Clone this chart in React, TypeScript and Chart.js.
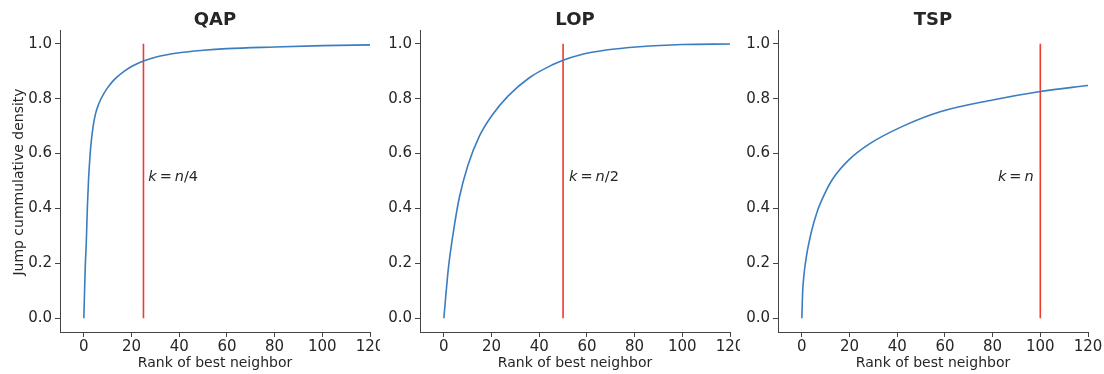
import React, { useEffect, useRef } from 'react';
import { Chart, registerables } from 'chart.js';
Chart.register(...registerables);

const xTickValues = [0, 20, 40, 60, 80, 100, 120];
const yTickValues = [0, 0.2, 0.4, 0.6, 0.8, 1.0];

const qapX = [0, 0.3, 0.6, 1, 1.5, 2, 2.5, 3, 4, 5, 6, 7, 8.5, 10, 12, 14, 17, 20, 25, 30, 40, 50, 60, 80, 100, 120];
const qapY = [0, 0.1, 0.19, 0.27, 0.41, 0.51, 0.58, 0.635, 0.705, 0.748, 0.775, 0.796, 0.82, 0.84, 0.862, 0.879, 0.9, 0.917, 0.937, 0.951, 0.967, 0.976, 0.982, 0.988, 0.993, 0.996];

const lopX = [0, 1, 2, 4, 6.5, 10, 15, 20, 27, 36, 46, 50, 57, 68, 82, 100, 120];
const lopY = [0, 0.1, 0.19, 0.315, 0.44, 0.555, 0.665, 0.737, 0.81, 0.877, 0.925, 0.94, 0.959, 0.977, 0.989, 0.997, 0.999];

const tspX = [0, 0.3, 0.8, 1.7, 4, 6.5, 9.5, 13, 19.5, 28.5, 42, 58, 80, 100, 120];
const tspY = [0, 0.09, 0.15, 0.214, 0.315, 0.39, 0.452, 0.508, 0.575, 0.636, 0.698, 0.752, 0.795, 0.826, 0.848];

const titles = ['QAP', 'LOP', 'TSP'];
const thresholds = [25, 50, 100];
const thresholdLabels = ['n/4', 'n/2', 'n'];

const FONT = "'DejaVu Sans', sans-serif";
const TEXT = '#262626';
const AXIS = '#444444';
const BLUE = '#3b7dc0';
const RED = '#ef3b30';

type Panel = {
  xs: number[];
  ys: number[];
  title: string;
  k: number;
  kLabel: string;
  left: number;
  width: number;
  axisW: number;
  padRight: number;
  annX: number;
  annAlign: 'left' | 'right';
  yLabel?: string;
};

const panels: Panel[] = [
  { xs: qapX, ys: qapY, title: titles[0], k: thresholds[0], kLabel: thresholdLabels[0], left: 0, width: 380, axisW: 60, padRight: 10, annX: 27, annAlign: 'left', yLabel: 'Jump cummulative density' },
  { xs: lopX, ys: lopY, title: titles[1], k: thresholds[1], kLabel: thresholdLabels[1], left: 380, width: 360, axisW: 40, padRight: 10, annX: 52.5, annAlign: 'left' },
  { xs: tspX, ys: tspY, title: titles[2], k: thresholds[2], kLabel: thresholdLabels[2], left: 740, width: 364, axisW: 38, padRight: 16, annX: 97.2, annAlign: 'right' },
];

function drawMath(ctx: CanvasRenderingContext2D, label: string, x: number, y: number, align: 'left' | 'right') {
  const size = 14.5;
  const it = `italic ${size}px ${FONT}`;
  const rg = `${size}px ${FONT}`;
  const nPart = label.slice(0, 1);
  const rest = label.slice(1);
  const pieces: { t: string; f: string; gap: number }[] = [
    { t: 'k', f: it, gap: 3 },
    { t: '=', f: rg, gap: 3 },
    { t: nPart, f: it, gap: 0 },
    { t: rest, f: rg, gap: 0 },
  ];
  let total = 0;
  for (const p of pieces) {
    ctx.font = p.f;
    total += ctx.measureText(p.t).width + p.gap;
  }
  let cx = align === 'left' ? x : x - total;
  ctx.textAlign = 'left';
  ctx.textBaseline = 'alphabetic';
  ctx.fillStyle = TEXT;
  for (const p of pieces) {
    ctx.font = p.f;
    if (p.t) ctx.fillText(p.t, cx, y);
    cx += ctx.measureText(p.t).width + p.gap;
  }
}

function PanelChart({ p }: { p: Panel }) {
  const ref = useRef<HTMLCanvasElement | null>(null);
  useEffect(() => {
    if (!ref.current) return;
    const textPlugin = {
      id: 'texts',
      afterDraw(chart: any) {
        const ctx = chart.ctx as CanvasRenderingContext2D;
        const area = chart.chartArea;
        const xs = chart.scales.x;
        const ys = chart.scales.y;
        ctx.save();
        ctx.fillStyle = TEXT;
        ctx.font = `bold 18px ${FONT}`;
        ctx.textAlign = 'center';
        ctx.textBaseline = 'alphabetic';
        ctx.fillText(p.title, (area.left + area.right) / 2, 24.5);
        ctx.font = `14px ${FONT}`;
        ctx.fillText('Rank of best neighbor', (area.left + area.right) / 2, 367);
        if (p.yLabel) {
          ctx.save();
          ctx.translate(23, (area.top + area.bottom) / 2 + 1);
          ctx.rotate(-Math.PI / 2);
          ctx.textAlign = 'center';
          ctx.fillText(p.yLabel, 0, 0);
          ctx.restore();
        }
        drawMath(ctx, p.kLabel, xs.getPixelForValue(p.annX), ys.getPixelForValue(0.5) - 0.5, p.annAlign);
        ctx.restore();
      },
    };
    const chart = new Chart(ref.current, {
      type: 'scatter',
      data: {
        datasets: [
          {
            data: p.xs.map((x, i) => ({ x, y: p.ys[i] })),
            showLine: true,
            borderColor: BLUE,
            borderWidth: 1.6,
            pointRadius: 0,
            cubicInterpolationMode: 'monotone',
          } as any,
          {
            data: [{ x: p.k, y: 0 }, { x: p.k, y: 1 }],
            showLine: true,
            borderColor: RED,
            borderWidth: 1.6,
            pointRadius: 0,
          } as any,
        ],
      },
      options: {
        responsive: false,
        animation: false,
        devicePixelRatio: 1,
        layout: { padding: { top: 30, right: p.padRight, left: 0, bottom: 0 } },
        plugins: { legend: { display: false }, tooltip: { enabled: false }, title: { display: false } },
        scales: {
          x: {
            type: 'linear',
            min: -10,
            max: 120,
            afterBuildTicks: (s: any) => { s.ticks = xTickValues.map((v) => ({ value: v })); },
            afterFit: (s: any) => { s.height = 42; s.paddingLeft = 0; s.paddingRight = 0; },
            ticks: { font: { family: FONT, size: 15 }, color: TEXT, padding: 1, maxRotation: 0, autoSkip: false, callback: (v: any) => String(v) },
            grid: { display: true, drawOnChartArea: false, drawTicks: true, tickLength: 5, color: AXIS, lineWidth: 1 },
            border: { display: true, color: AXIS, width: 1 },
          },
          y: {
            type: 'linear',
            min: -0.05,
            max: 1.05,
            afterBuildTicks: (s: any) => { s.ticks = yTickValues.map((v) => ({ value: v })); },
            afterFit: (s: any) => { s.width = p.axisW; s.paddingTop = 0; s.paddingBottom = 0; },
            ticks: { font: { family: FONT, size: 15 }, color: TEXT, padding: 3, autoSkip: false, callback: (v: any) => Number(v).toFixed(1) },
            grid: { display: true, drawOnChartArea: false, drawTicks: true, tickLength: 5, color: AXIS, lineWidth: 1 },
            border: { display: true, color: AXIS, width: 1 },
          },
        },
      },
      plugins: [textPlugin],
    });
    return () => chart.destroy();
  }, [p]);
  return (
    <canvas
      ref={ref}
      width={p.width}
      height={374}
      style={{ position: 'absolute', left: p.left, top: 0, width: p.width, height: 374 }}
    />
  );
}

export default function App() {
  return (
    <div style={{ position: 'absolute', left: 0, top: 0, width: 1104, height: 374, background: '#ffffff' }}>
      {panels.map((p, i) => (
        <PanelChart key={i} p={p} />
      ))}
    </div>
  );
}
